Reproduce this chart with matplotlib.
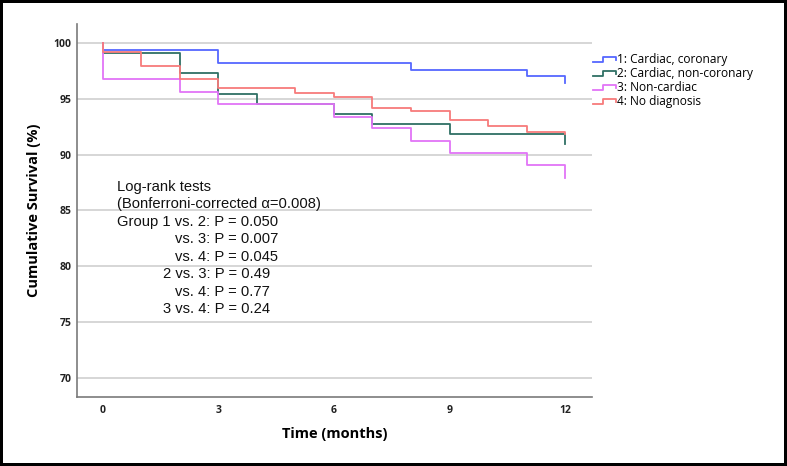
import matplotlib
matplotlib.use("Agg")
import matplotlib.pyplot as plt
from matplotlib.lines import Line2D
from matplotlib.legend_handler import HandlerBase

# Kaplan-Meier steps (month, cumulative survival %)
groups = ["1: Cardiac, coronary", "2: Cardiac, non-coronary", "3: Non-cardiac", "4: No diagnosis"]
colors = ["#5567ff", "#2f7064", "#e274f7", "#f77b7b"]

t1 = [0, 0, 3, 8, 11, 12]
s1 = [100, 99.4, 98.2, 97.6, 97.0, 96.45]
t2 = [0, 0, 2, 3, 4, 6, 7, 9, 12]
s2 = [100, 99.1, 97.3, 95.45, 94.55, 93.6, 92.75, 91.85, 90.95]
t3 = [0, 0, 2, 3, 6, 7, 8, 9, 11, 12]
s3 = [100, 96.75, 95.65, 94.5, 93.4, 92.4, 91.25, 90.15, 89.05, 87.9]
t4 = [0, 0, 1, 2, 3, 5, 6, 7, 8, 9, 10, 11, 12]
s4 = [100, 99.15, 97.9, 96.8, 96.0, 95.55, 95.2, 94.15, 93.9, 93.1, 92.6, 92.05, 91.85]

xticks = [0, 3, 6, 9, 12]
yticks = [70, 75, 80, 85, 90, 95, 100]

stats_lines = ["Log-rank tests", "(Bonferroni-corrected α=0.008)",
               "Group 1 vs. 2: P = 0.050", "vs. 3: P = 0.007", "vs. 4: P = 0.045",
               "2 vs. 3: P = 0.49", "vs. 4: P = 0.77", "3 vs. 4: P = 0.24"]
stats_x = [0.36, 0.36, 0.36, 1.87, 1.87, 1.56, 1.87, 1.56]


class StepHandler(HandlerBase):
    # little step shaped legend key like SPSS draws
    def create_artists(self, legend, orig, xd, yd, width, height, fontsize, trans):
        x0, y0 = -xd, -yd
        xs = [x0, x0 + 0.45 * width, x0 + 0.45 * width, x0 + width, x0 + width]
        ys = [y0 + 0.1 * height, y0 + 0.1 * height, y0 + 0.75 * height, y0 + 0.75 * height, y0 + 0.35 * height]
        ln = Line2D(xs, ys, color=orig.get_color(), lw=orig.get_linewidth(), transform=trans)
        return [ln]


fig = plt.figure(figsize=(7.87, 4.66), dpi=100)
fig.patch.set_edgecolor("black")
fig.patch.set_linewidth(3)
ax = fig.add_axes([0.0978, 0.1481, 0.6544, 0.8004])

lines = []
for t, s, c in zip([t1, t2, t3, t4], [s1, s2, s3, s4], colors):
    ln, = ax.step(t, s, where="post", color=c, lw=1.3, zorder=3)
    lines.append(ln)

ax.set_xlim(-0.675, 12.7)
ax.set_ylim(68.3, 101.7)
ax.set_xticks(xticks)
ax.set_yticks(yticks)
ax.tick_params(length=0, labelsize=7.5, colors="#222222")
ax.tick_params(axis="y", pad=4)
ax.tick_params(axis="x", pad=6)
for lab in ax.get_xticklabels() + ax.get_yticklabels():
    lab.set_fontfamily("Open Sans")
    lab.set_fontweight("bold")
ax.yaxis.grid(True, color="#cfcfcf", lw=1.2)
ax.set_axisbelow(True)
for side in ["top", "right"]:
    ax.spines[side].set_visible(False)
for side in ["left", "bottom"]:
    ax.spines[side].set_color("#7a7a7a")
    ax.spines[side].set_linewidth(1.2)

ax.set_xlabel("Time (months)", fontfamily="Open Sans", fontweight="bold", fontsize=10.5, labelpad=8)
ax.set_ylabel("Cumulative Survival (%)", fontfamily="Open Sans", fontweight="bold", fontsize=10.5, labelpad=9)

y0 = 87.14
for i, (txt, x) in enumerate(zip(stats_lines, stats_x)):
    ax.text(x, y0 - i * 1.571, txt, fontfamily="Liberation Sans", fontsize=10.6,
            ha="left", va="center", color="#111111")

fig.legend(lines, groups, handler_map={Line2D: StepHandler()},
           loc="upper left", bbox_to_anchor=(593 / 787, 1 - 53 / 466),
           frameon=False, prop={"family": "Open Sans", "size": 8.6},
           handlelength=1.9, handletextpad=0.15, labelspacing=0.08,
           borderpad=0, borderaxespad=0)

fig.savefig("out.png", dpi=100)
